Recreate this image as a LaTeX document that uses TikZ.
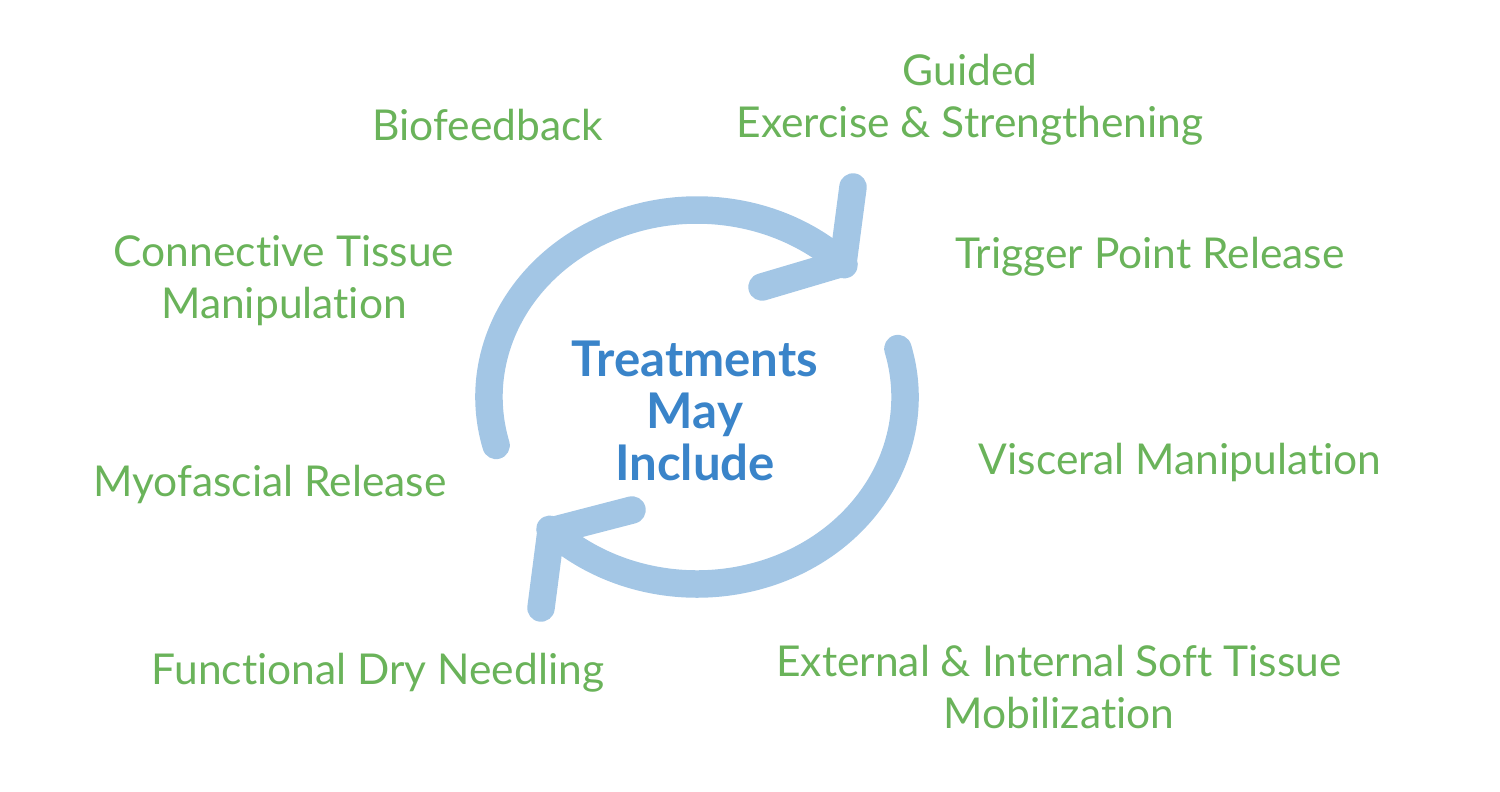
\documentclass[tikz,border=0pt]{standalone}
\usepackage{fontspec}
\setmainfont{Lato}[Ligatures=NoCommon]
\usetikzlibrary{positioning,calc}
\definecolor{leafgreen}{HTML}{6AB35A}
\definecolor{arrowblue}{HTML}{A3C6E5}
\definecolor{titleblue}{HTML}{3A84C9}

\begin{document}
\begin{tikzpicture}[x=0.02cm,y=-0.02cm,
  every node/.style={inner sep=0pt,align=center},
  item/.style={text=leafgreen,font=\fontsize{24.2}{29.5}\selectfont},
  title/.style={text=titleblue,font=\bfseries\fontsize{28}{29.5}\selectfont},
  cyclearc/.style={draw=arrowblue,line width=0.55cm,line cap=round,line join=round}]
\useasboundingbox (0,0) rectangle (1500,791);
% centre and the two turning arrows
\coordinate (ctr) at (697,397);
\coordinate (tipA) at (843,263);
\coordinate (tipB) at (551,531);
\draw[cyclearc] ($(ctr)+(165:208 and 187)$) arc[start angle=165,end angle=315,x radius=208,y radius=187];
\draw[cyclearc] (853,187) -- (tipA) -- (762,287);
\draw[cyclearc] ($(ctr)+(-15:208 and 187)$) arc[start angle=-15,end angle=135,x radius=208,y radius=187];
\draw[cyclearc] (541,608) -- (tipB) -- (632,510);
\node[title] (title) at (695,411) {Treatments\\May\\Include};
% the treatments
\node[item] (guided) at (970,100) {Guided\\Exercise \& Strengthening};
\node[item] (biofeedback) at (488,125) {Biofeedback};
\node[item] (trigger) at (1150,257) {Trigger Point Release};
\node[item] (connective) at (284,281) {Connective Tissue\\Manipulation};
\node[item] (visceral) at (1180,462) {Visceral Manipulation};
\node[item] (myofascial) at (270,484) {Myofascial Release};
\node[item] (needling) at (378,673) {Functional Dry Needling};
\node[item] (softtissue) at (1059,687) {External \& Internal Soft Tissue\\Mobilization};
\end{tikzpicture}
\end{document}
